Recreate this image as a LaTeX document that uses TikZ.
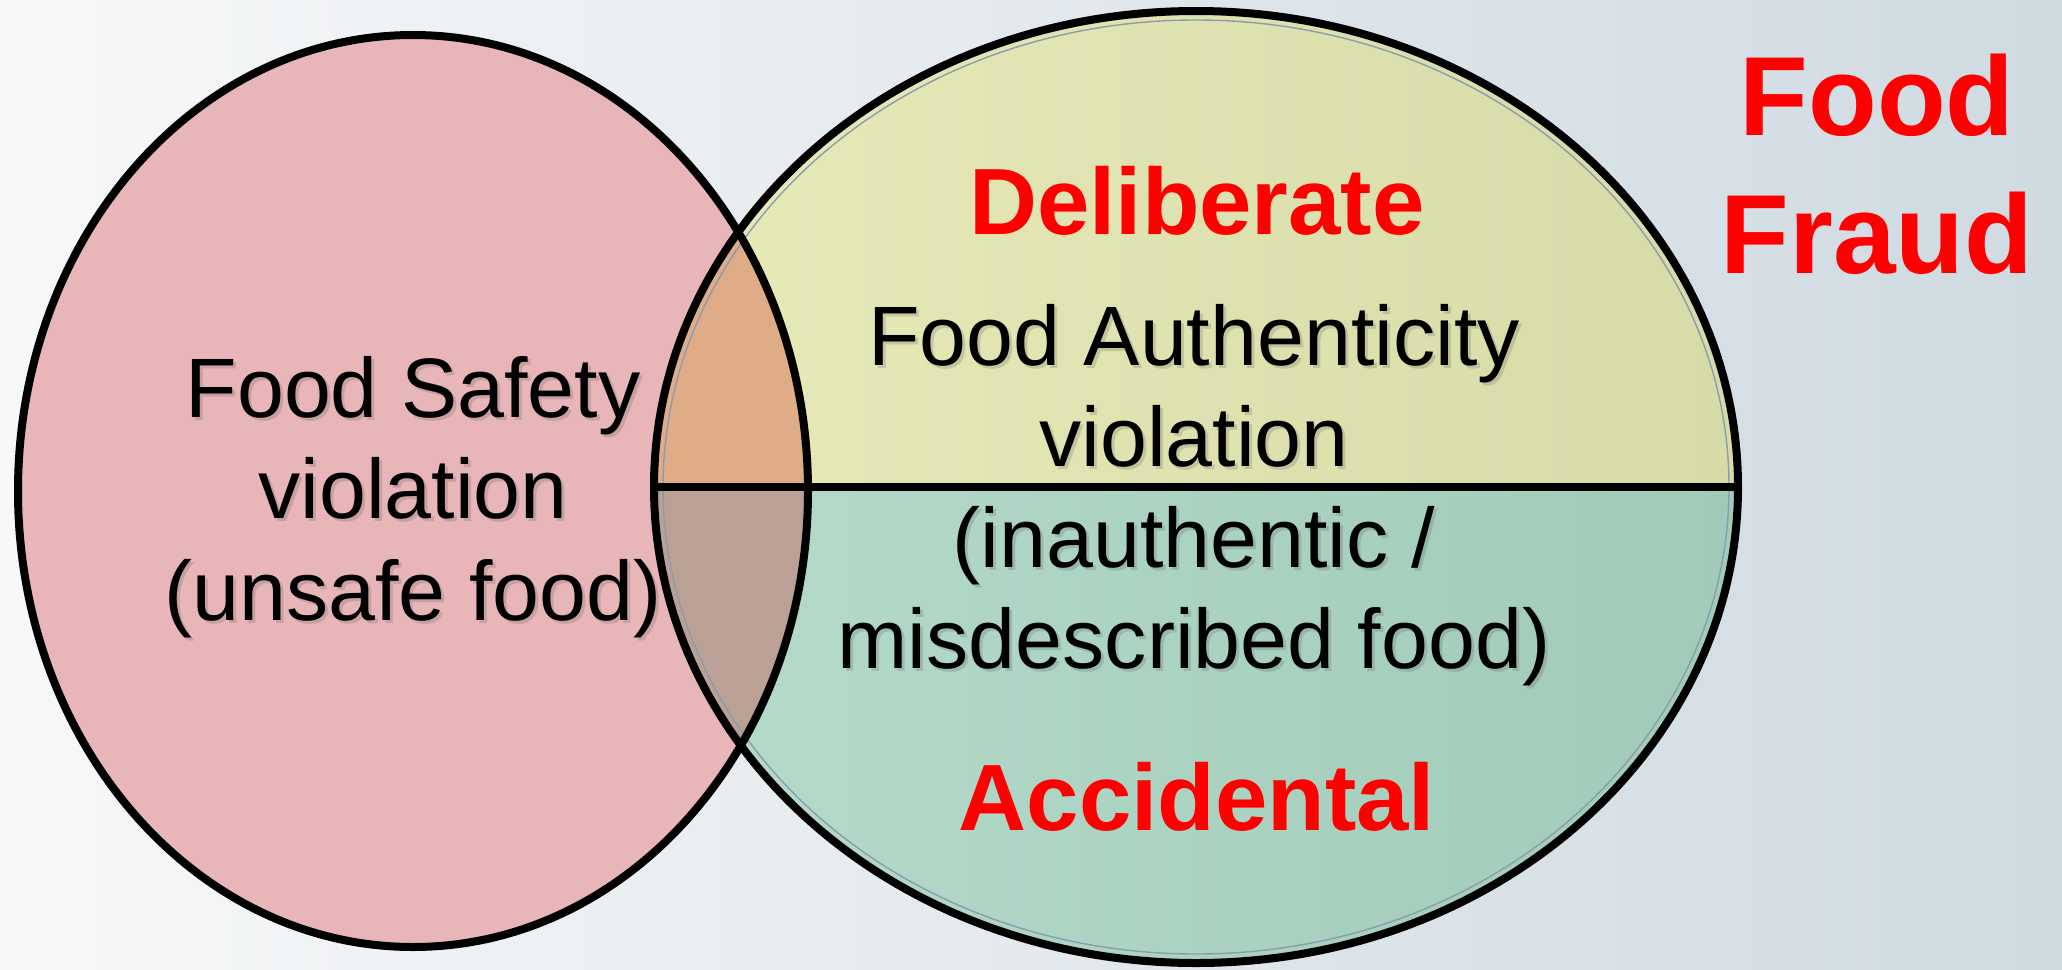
\documentclass[tikz,border=0pt]{standalone}
\usepackage{fontspec}
\setmainfont{Liberation Sans}
\definecolor{bgL}{HTML}{F7F8F9}
\definecolor{bgR}{HTML}{CFDAE1}
\definecolor{pinkc}{HTML}{E8B5B8}
\definecolor{yelL}{HTML}{E8EAB8}
\definecolor{yelR}{HTML}{D6DBA8}
\definecolor{tealL}{HTML}{B5DBCB}
\definecolor{tealR}{HTML}{A1CAB8}
\definecolor{lensT}{HTML}{DFAC87}
\definecolor{lensB}{HTML}{BBA195}
\definecolor{innerc}{HTML}{8A9DB0}
\definecolor{fred}{HTML}{FF0000}
\begin{document}
\begin{tikzpicture}[x=0.25mm,y=-0.25mm,
  border/.style={line width=2mm, draw=black},
  body/.style={font=\fontsize{60}{72}\selectfont, align=center, text=black, inner sep=0pt},
  bodyshadow/.style={body, text=black!70, opacity=0.2},
  redlbl/.style={font=\bfseries\fontsize{67}{80}\selectfont, text=fred, inner sep=0pt},
  titlelbl/.style={font=\bfseries\fontsize{80}{98}\selectfont, text=fred, align=center, inner sep=0pt}]
\useasboundingbox (0,0) rectangle (2062,969);
\shade[left color=bgL, right color=bgR] (0,0) rectangle (2062,969);
% left set
\fill[pinkc] (413,491) ellipse [x radius=395, y radius=456];
% right set
\begin{scope}
  \clip (1196,487) ellipse [x radius=542, y radius=476];
  \shade[left color=yelL, right color=yelR] (654,0) rectangle (1738,487);
  \shade[left color=tealL, right color=tealR] (654,487) rectangle (1738,969);
  \clip (413,491) ellipse [x radius=395, y radius=456];
  \fill[lensT] (0,0) rectangle (2062,487);
  \fill[lensB] (0,487) rectangle (2062,969);
\end{scope}
\draw[line width=0.35mm, innerc] (1196,487) ellipse [x radius=533, y radius=467];
% outlines
\draw[border] (413,491) ellipse [x radius=395, y radius=456];
\draw[border] (1196,487) ellipse [x radius=542, y radius=476];
\coordinate (hl) at (654,487);
\coordinate (hr) at (1738,487);
\draw[border] (hl) -- (hr);
% texts
\node[bodyshadow] at (416,500) {Food Safety\\violation\\(unsafe food)};
\node[body] (safety) at (413,497) {Food Safety\\violation\\(unsafe food)};
\node[bodyshadow] at (1197,498) {Food Authenticity\\violation\\(inauthentic /\\misdescribed food)};
\node[body] (auth) at (1194,495) {Food Authenticity\\violation\\(inauthentic /\\misdescribed food)};
\node[redlbl] (delib) at (1197,201) {Deliberate};
\node[redlbl] (accid) at (1197,797) {Accidental};
\node[titlelbl] (fraud) at (1877,164) {Food\\Fraud};
\end{tikzpicture}
\end{document}
